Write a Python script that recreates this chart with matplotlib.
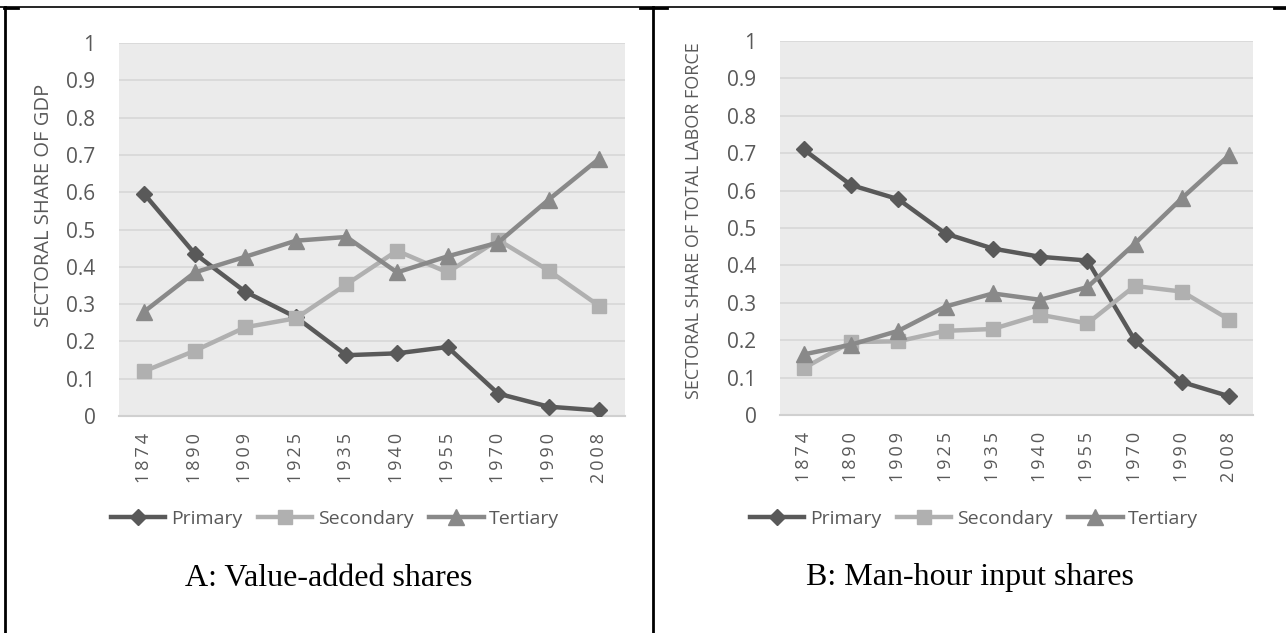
import matplotlib.pyplot as plt
from matplotlib.lines import Line2D

years = [1874, 1890, 1909, 1925, 1935, 1940, 1955, 1970, 1990, 2008]

# A: value-added shares
gdp_primary = [0.595, 0.435, 0.333, 0.265, 0.163, 0.168, 0.185, 0.060, 0.025, 0.015]
gdp_secondary = [0.120, 0.175, 0.238, 0.262, 0.353, 0.443, 0.385, 0.472, 0.390, 0.295]
gdp_tertiary = [0.280, 0.385, 0.427, 0.470, 0.480, 0.385, 0.428, 0.465, 0.580, 0.690]

# B: man-hour input shares
lab_primary = [0.710, 0.615, 0.577, 0.485, 0.445, 0.423, 0.413, 0.200, 0.088, 0.050]
lab_secondary = [0.125, 0.195, 0.197, 0.225, 0.230, 0.268, 0.245, 0.345, 0.330, 0.255]
lab_tertiary = [0.162, 0.188, 0.225, 0.290, 0.325, 0.308, 0.342, 0.458, 0.580, 0.695]

sectors = ['Primary', 'Secondary', 'Tertiary']
colors = ['#595959', '#b0b0b0', '#898989']
markers = ['D', 's', '^']
msizes = [8, 10, 11]

W, H = 1286, 633
fig = plt.figure(figsize=(W / 100, H / 100), dpi=100, facecolor='w')
tick_font = ['Open Sans', 'DejaVu Sans']


def panel(rect, series, ylabel, ylab_xy, ylab_size, leg_xy, title, title_xy):
    ax = fig.add_axes(rect)
    ax.set_facecolor('#ebebeb')
    x = range(len(years))
    handles = []
    for vals, c, m, ms, name in zip(series, colors, markers, msizes, sectors):
        h, = ax.plot(x, vals, color=c, marker=m, markersize=ms, lw=3.2, label=name, zorder=3)
        handles.append(h)
    ax.set_xlim(-0.5, len(years) - 0.5)
    ax.set_ylim(0, 1)
    ax.set_yticks([i / 10 for i in range(11)])
    ax.set_yticklabels(['0'] + ['0.%d' % i for i in range(1, 10)] + ['1'],
                       fontsize=15, color='#595959', family=tick_font)
    ax.set_xticks(list(x))
    ax.set_xticklabels(['\u2009'.join(str(y)) for y in years], rotation=90,
                       fontsize=13, color='#595959', family=tick_font)
    ax.tick_params(length=0)
    ax.tick_params(axis='x', pad=12)
    ax.tick_params(axis='y', pad=17)
    ax.grid(axis='y', color='#d9d9d9', lw=1.3, zorder=0)
    ax.set_axisbelow(True)
    for s in ['top', 'right', 'left']:
        ax.spines[s].set_visible(False)
    ax.spines['bottom'].set_color('#d0d0d0')
    ax.spines['bottom'].set_linewidth(1.5)
    fig.text(ylab_xy[0] / W, 1 - ylab_xy[1] / H, ylabel, rotation=90, ha='center',
             va='center', fontsize=ylab_size, color='#595959', family=tick_font)
    fig.legend(handles=handles, loc='center', bbox_to_anchor=(leg_xy[0] / W, 1 - leg_xy[1] / H),
               ncol=3, frameon=False, handlelength=2.8, handletextpad=0.3, columnspacing=0.8,
               prop={'family': tick_font, 'size': 14}, labelcolor='#595959')
    fig.text(title_xy[0] / W, 1 - title_xy[1] / H, title, ha='center', va='center',
             fontsize=23, family='Liberation Serif', color='black')


panel([119 / W, 1 - 416 / H, 505.5 / W, 373 / H],
      [gdp_primary, gdp_secondary, gdp_tertiary],
      'SECTORAL SHARE OF GDP', (44, 205), 14.5, (335, 519),
      'A: Value-added shares', (329, 578))
panel([780 / W, 1 - 415 / H, 473 / W, 374 / H],
      [lab_primary, lab_secondary, lab_tertiary],
      'SECTORAL SHARE OF TOTAL LABOR FORCE', (694, 221), 13, (974, 519),
      'B: Man-hour input shares', (970, 578))

# table borders
def hline(x0, x1, y, lw):
    fig.add_artist(Line2D([x0 / W, x1 / W], [1 - y / H, 1 - y / H], color='black', lw=lw))


def vline(x, y0, y1, lw):
    fig.add_artist(Line2D([x / W, x / W], [1 - y0 / H, 1 - y1 / H], color='black', lw=lw))


hline(0, W, 7, 1.2)
hline(4, 18, 7.5, 2)
hline(640, 667, 7.5, 2)
hline(1274, W, 7.5, 2)
vline(4.5, 7, H, 2)
vline(652.5, 7, H, 2)

fig.savefig('out.png', dpi=100, facecolor='w')
